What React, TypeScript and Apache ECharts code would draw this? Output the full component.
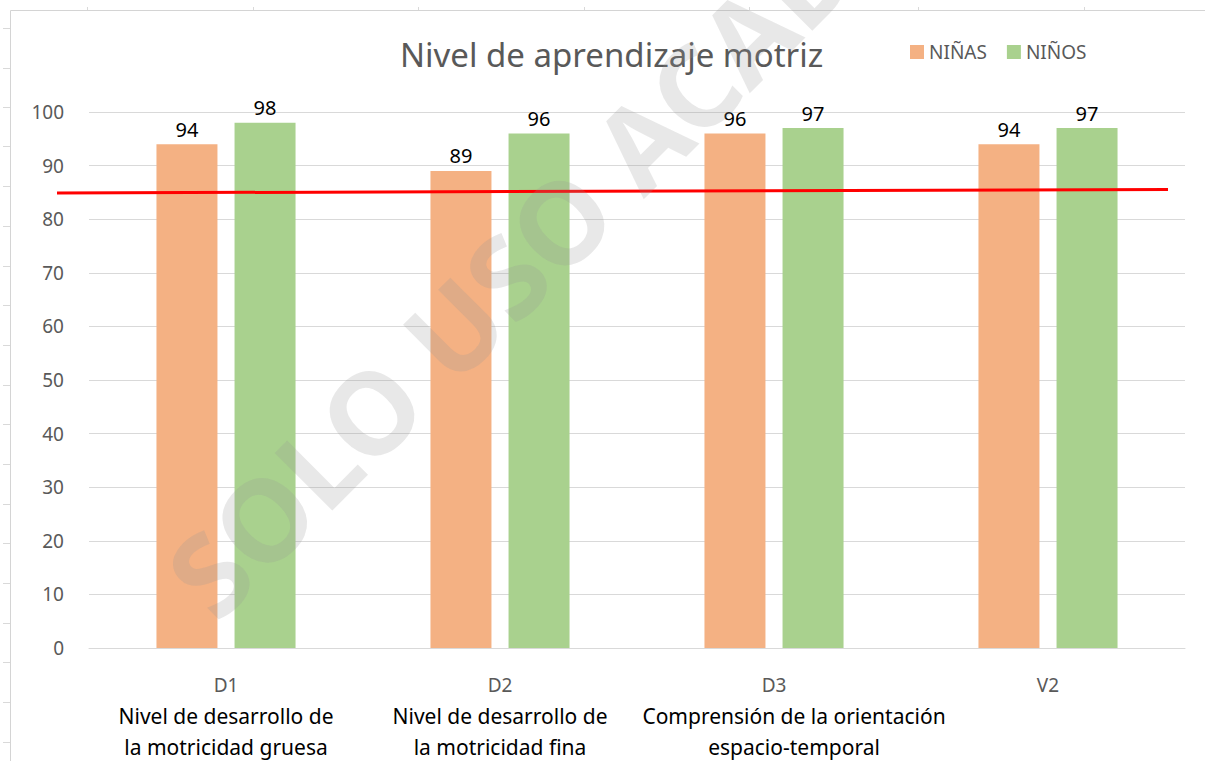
import React, { useEffect, useRef } from "react";
import * as echarts from "echarts";

// ---- Data ----
const categoryCodes = ["D1", "D2", "D3", "V2"];
const categoryDescriptions = [
  ["Nivel de desarrollo de", "la motricidad gruesa"],
  ["Nivel de desarrollo de", "la motricidad fina"],
  ["Comprensión de la orientación", "espacio-temporal"],
  [],
];
const seriesNames = ["NIÑAS", "NIÑOS"];
const ninasValues = [94, 89, 96, 94];
const ninosValues = [98, 96, 97, 97];
const yAxisMin = 0;
const yAxisMax = 100;
const yAxisInterval = 10;
const chartTitle = "Nivel de aprendizaje motriz";
const watermarkText = "SOLO USO ACADÉMICO";

// decoration (spreadsheet background)
const sheetRowTicks = [28, 68, 107, 146, 186, 226, 266, 305, 345, 385, 424, 464, 504, 543, 583, 623, 662, 702, 742];
const sheetColTicks = [87, 253, 418, 584, 749, 918, 1084];

const FONT = '"Noto Sans", "Open Sans", sans-serif';
const ORANGE = "#F4B183";
const GREEN = "#A9D18E";
const GREY_TEXT = "#595959";
const GRID_GREY = "#d9d9d9";

export default function App() {
  const ref = useRef<HTMLDivElement>(null);

  useEffect(() => {
    if (!ref.current) return;
    const chart = echarts.init(ref.current, null, { renderer: "svg" });

    const sheetLines: any[] = [
      { type: "line", shape: { x1: 10.5, y1: 10.5, x2: 1205, y2: 10.5 }, style: { stroke: "#d4d4d4", lineWidth: 1 }, silent: true },
      { type: "line", shape: { x1: 10.5, y1: 10.5, x2: 10.5, y2: 761 }, style: { stroke: "#d4d4d4", lineWidth: 1 }, silent: true },
      ...sheetRowTicks.map((y) => ({
        type: "line",
        shape: { x1: 3, y1: y + 0.5, x2: 10, y2: y + 0.5 },
        style: { stroke: "#d9d9d9", lineWidth: 1 },
        silent: true,
      })),
      ...sheetColTicks.map((x) => ({
        type: "line",
        shape: { x1: x + 0.5, y1: 7, x2: x + 0.5, y2: 10 },
        style: { stroke: "#d9d9d9", lineWidth: 1 },
        silent: true,
      })),
    ];

    const option: any = {
      animation: false,
      backgroundColor: "#ffffff",
      title: {
        text: chartTitle,
        left: 400,
        top: 34,
        padding: 0,
        textStyle: {
          fontFamily: FONT,
          fontSize: 33,
          fontWeight: "normal",
          color: GREY_TEXT,
          lineHeight: 40,
        },
      },
      legend: {
        data: seriesNames,
        left: 910,
        top: 42,
        padding: 0,
        itemWidth: 14,
        itemHeight: 14,
        itemGap: 20,
        icon: "rect",
        textStyle: {
          fontFamily: FONT,
          fontSize: 19,
          color: GREY_TEXT,
          lineHeight: 20,
        },
      },
      grid: {
        left: 89,
        right: 20,
        top: 112,
        bottom: 113,
        containLabel: false,
      },
      xAxis: {
        type: "category",
        data: categoryCodes,
        axisLine: { show: true, lineStyle: { color: GRID_GREY, width: 1 } },
        axisTick: { show: false },
        axisLabel: {
          margin: 21,
          interval: 0,
          formatter: (value: string, idx: number) => {
            const desc = categoryDescriptions[idx] || [];
            const style = idx === 2 ? "c" : "b";
            const lines = [`{a|${value}}`, ...desc.map((d) => `{${style}|${d}}`)];
            return lines.join("\n");
          },
          rich: {
            a: { fontFamily: FONT, fontSize: 19, color: GREY_TEXT, lineHeight: 31 },
            b: { fontFamily: FONT, fontSize: 21, color: "#000000", lineHeight: 31 },
            c: { fontFamily: FONT, fontSize: 21, color: "#000000", lineHeight: 31, padding: [0, 0, 0, 40] },
          },
        },
      },
      yAxis: {
        type: "value",
        min: yAxisMin,
        max: yAxisMax,
        interval: yAxisInterval,
        axisLine: { show: false },
        axisTick: { show: false },
        splitLine: { show: true, lineStyle: { color: GRID_GREY, width: 1 } },
        axisLabel: {
          margin: 25,
          fontFamily: FONT,
          fontSize: 19,
          color: GREY_TEXT,
        },
      },
      series: [
        {
          name: seriesNames[0],
          type: "bar",
          data: ninasValues,
          barWidth: 61,
          barGap: "28%",
          itemStyle: { color: ORANGE },
          label: {
            show: true,
            position: "top",
            distance: 5,
            fontFamily: FONT,
            fontSize: 20,
            color: "#000000",
          },
        },
        {
          name: seriesNames[1],
          type: "bar",
          data: ninosValues,
          barWidth: 61,
          barGap: "28%",
          itemStyle: { color: GREEN },
          label: {
            show: true,
            position: "top",
            distance: 5,
            fontFamily: FONT,
            fontSize: 20,
            color: "#000000",
          },
        },
      ],
      graphic: [
        ...sheetLines,
        {
          type: "line",
          z: 50,
          shape: { x1: 57, y1: 193, x2: 1168, y2: 189.5 },
          style: { stroke: "#ff0000", lineWidth: 3 },
          silent: true,
        },
        {
          type: "text",
          z: 60,
          x: 186,
          y: 594,
          rotation: Math.PI / 4,
          silent: true,
          style: {
            text: watermarkText,
            fontFamily: FONT,
            fontSize: 114,
            fontWeight: "bold",
            fill: "rgba(150,150,150,0.22)",
            textAlign: "left",
            textVerticalAlign: "middle",
          },
        },
      ],
    };

    chart.setOption(option);
    return () => {
      chart.dispose();
    };
  }, []);

  return (
    <div
      ref={ref}
      style={{ position: "absolute", left: 0, top: 0, width: 1205, height: 761, background: "#fff" }}
    />
  );
}
